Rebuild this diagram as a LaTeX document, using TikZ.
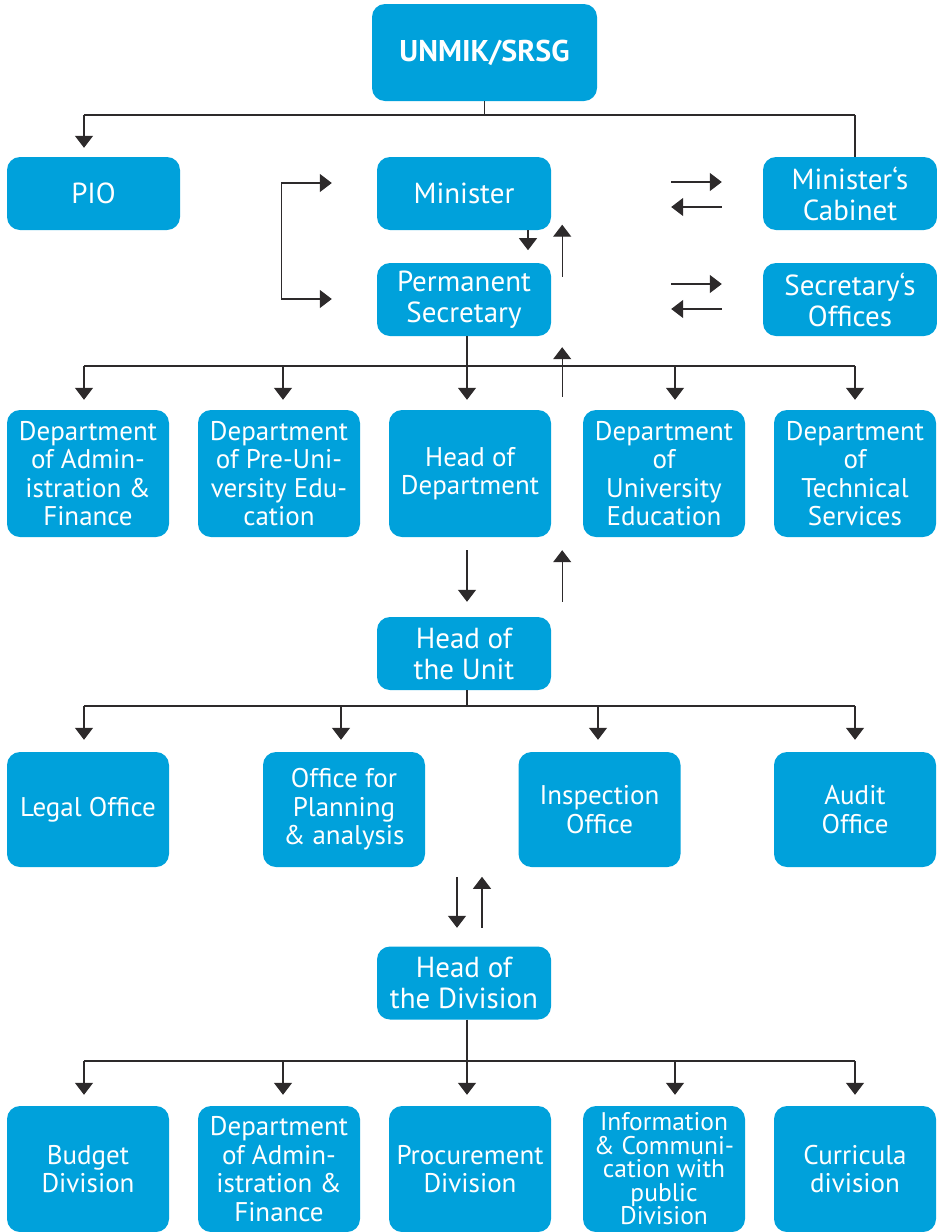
\documentclass[tikz,border=0pt]{standalone}
\usepackage{fontspec}
\setmainfont{PT Sans}
\usetikzlibrary{arrows.meta}
\definecolor{boxblue}{RGB}{0,161,219}
\definecolor{linegray}{RGB}{45,42,43}
\newcommand{\fA}{\fontsize{29}{31}\selectfont}
\newcommand{\fB}{\fontsize{27}{28.5}\selectfont}
\newcommand{\fC}{\fontsize{25.5}{23.5}\selectfont}
\tikzset{
  box/.style={fill=boxblue, rounded corners=13pt, text=white, align=center, inner sep=0pt, font=\fA},
  ln/.style={draw=linegray, line width=1.3pt},
  arr/.style={ln, -{Triangle[width=18pt,length=12pt]}},
}
\begin{document}
\begin{tikzpicture}[x=1pt,y=-1pt]
\useasboundingbox (0,0) rectangle (937,1232);
% nodes
\node[box, minimum width=225pt, minimum height=97pt, font=\fontsize{30}{32}\selectfont\bfseries] (unmik) at (484.5,52.5) {UNMIK/SRSG};
\node[box, minimum width=173pt, minimum height=73pt] (pio) at (93.5,193.5) {PIO};
\node[box, minimum width=174pt, minimum height=73pt] (min) at (464,193.5) {Minister};
\node[box, minimum width=174pt, minimum height=73pt] (cab) at (850,193.5) {Minister‘s\\Cabinet};
\node[box, minimum width=174pt, minimum height=73pt] (ps) at (464,299.5) {Permanent\\Secretary};
\node[box, minimum width=174pt, minimum height=73pt] (so) at (850,299.5) {Secretary‘s\\Offices};
% departments
\node[box, minimum width=162pt, minimum height=127pt, font=\fB] (d1) at (88,473.5) {Department\\of Admin-\\istration \&\\Finance};
\node[box, minimum width=162pt, minimum height=127pt, font=\fB] (d2) at (279,473.5) {Department\\of Pre-Uni-\\versity Edu-\\cation};
\node[box, minimum width=162pt, minimum height=127pt, font=\fB] (d3) at (470,473.5) {Head of\\Department};
\node[box, minimum width=162pt, minimum height=127pt, font=\fB] (d4) at (664,473.5) {Department\\of\\University\\Education};
\node[box, minimum width=162pt, minimum height=127pt, font=\fB] (d5) at (855,473.5) {Department\\of\\Technical\\Services};
\node[box, minimum width=174pt, minimum height=73pt] (hu) at (464,653.5) {Head of\\the Unit};
% offices
\node[box, minimum width=162pt, minimum height=115pt, font=\fB] (o1) at (88,809.5) {Legal Office};
\node[box, minimum width=162pt, minimum height=115pt, font=\fB] (o2) at (344,809.5) {Office for\\Planning\\\& analysis};
\node[box, minimum width=162pt, minimum height=115pt, font=\fB] (o3) at (599.5,809.5) {Inspection\\Office};
\node[box, minimum width=162pt, minimum height=115pt, font=\fB] (o4) at (855,809.5) {Audit\\Office};
\node[box, minimum width=174pt, minimum height=73pt] (hd) at (464,983) {Head of\\the Division};
% bottom
\node[box, minimum width=162pt, minimum height=126pt, font=\fB] (e1) at (88,1169) {Budget\\Division};
\node[box, minimum width=162pt, minimum height=126pt, font=\fB] (e2) at (279,1169) {Department\\of Admin-\\istration \&\\Finance};
\node[box, minimum width=162pt, minimum height=126pt, font=\fB] (e3) at (470,1169) {Procurement\\Division};
\node[box, minimum width=162pt, minimum height=126pt, font=\fC] (e4) at (664,1169) {Information\\\& Communi-\\cation with\\public\\Division};
\node[box, minimum width=162pt, minimum height=126pt, font=\fB] (e5) at (855,1169) {Curricula\\division};
% bus coordinates
\coordinate (b1L) at (84,115); \coordinate (b1) at (484.5,115); \coordinate (b1R) at (855,115);
\coordinate (b2L) at (84,366); \coordinate (b2R) at (855,366);
\coordinate (b3L) at (84,706); \coordinate (b3) at (467,706); \coordinate (b3R) at (855,706);
\coordinate (b4L) at (84,1061); \coordinate (b4) at (467,1061); \coordinate (b4R) at (855,1061);
% top level
\draw[ln] (unmik.south) -- (b1);
\draw[ln] (b1L) -- (b1R);
\draw[arr, shorten >=9pt] (b1L) -- ([xshift=-9.5pt]pio.north);
\draw[ln] (b1R) -- (b1R |- cab.north);
% bracket
\draw[ln, {Triangle[width=18pt,length=12pt]}-{Triangle[width=18pt,length=12pt]}]
  ([xshift=-45pt,yshift=10.5pt]min.west) -- ++(-50,0) |- ([xshift=-45pt,yshift=0.5pt]ps.west);
% minister <-> ps
\draw[arr] ([xshift=64pt]min.south) -- ++(0,20);
\draw[arr] ([xshift=11pt,yshift=-14pt]ps.north east) -- ([xshift=11pt,yshift=5.5pt]min.south east);
% side arrows
\draw[arr] ([xshift=120pt,yshift=11.5pt]min.east) -- ([xshift=-41pt,yshift=11.5pt]cab.west);
\draw[arr] ([xshift=-41pt,yshift=-13.5pt]cab.west) -- ([xshift=120pt,yshift=-13.5pt]min.east);
\draw[arr] ([xshift=120pt,yshift=15.5pt]ps.east) -- ([xshift=-41pt,yshift=15.5pt]so.west);
\draw[arr] ([xshift=-41pt,yshift=-9.5pt]so.west) -- ([xshift=120pt,yshift=-9.5pt]ps.east);
% ps to departments
\draw[ln] (b2L) -- (b2R);
\draw[arr, shorten >=10pt] ([xshift=3pt]ps.south) -- ([xshift=-3pt]d3.north);
\draw[arr, shorten >=10pt] (b2L) -- ([xshift=-4pt]d1.north);
\draw[arr, shorten >=10pt] (b2L -| 283,0) -- ([xshift=4pt]d2.north);
\draw[arr, shorten >=10pt] (b2L -| 675,0) -- ([xshift=11pt]d4.north);
\draw[arr, shorten >=10pt] (b2R) -- (d5.north);
\draw[arr] ([xshift=11pt,yshift=13pt]d3.north east) -- ([xshift=11pt,yshift=-11pt]ps.south east);
% head of department <-> head of unit
\draw[arr] ([xshift=-3pt,yshift=-13pt]d3.south) -- ([xshift=3pt,yshift=15pt]hu.north);
\draw[arr] ([xshift=11pt,yshift=15pt]hu.north east) -- ([xshift=11pt,yshift=-13pt]d3.south east);
% head of unit to offices
\draw[ln] ([xshift=3pt]hu.south) -- (b3);
\draw[ln] (b3L) -- (b3R);
\draw[arr, shorten >=12pt] (b3L) -- ([xshift=-4pt]o1.north);
\draw[arr, shorten >=12pt] (b3L -| 341,0) -- ([xshift=-3pt]o2.north);
\draw[arr, shorten >=12pt] (b3L -| 598,0) -- ([xshift=-1.5pt]o3.north);
\draw[arr, shorten >=12pt] (b3R) -- (o4.north);
% offices <-> head of division
\draw[arr] ([xshift=-7pt,yshift=69.5pt]hd.north) -- ([xshift=-7pt,yshift=18.5pt]hd.north);
\draw[arr] ([xshift=18pt,yshift=18.5pt]hd.north) -- ([xshift=18pt,yshift=69.5pt]hd.north);
% head of division to bottom
\draw[ln] ([xshift=3pt]hd.south) -- (b4);
\draw[ln] (b4L) -- (b4R);
\draw[arr, shorten >=11pt] (b4) -- ([xshift=-3pt]e3.north);
\draw[arr, shorten >=11pt] (b4L) -- ([xshift=-4pt]e1.north);
\draw[arr, shorten >=11pt] (b4L -| 283,0) -- ([xshift=4pt]e2.north);
\draw[arr, shorten >=11pt] (b4L -| 675,0) -- ([xshift=11pt]e4.north);
\draw[arr, shorten >=11pt] (b4R) -- (e5.north);
\end{tikzpicture}
\end{document}
